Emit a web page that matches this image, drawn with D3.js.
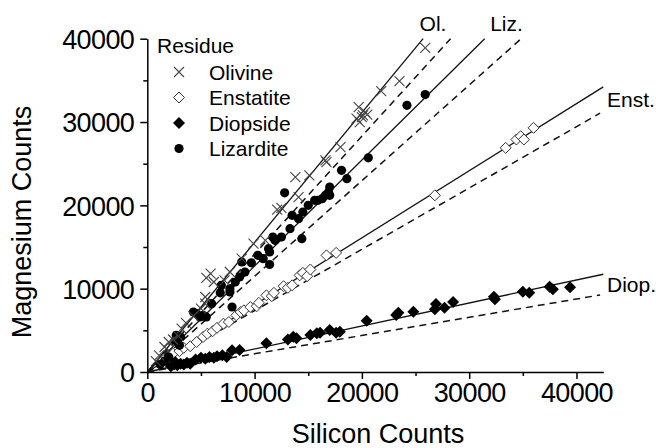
<!DOCTYPE html>
<html>
<head>
<meta charset="utf-8">
<script src="https://cdn.jsdelivr.net/npm/d3@7"></script>
<style>
  body { margin: 0; background: #fff; }
  text { font-family: "Liberation Sans", Arial, sans-serif; fill: #000; }
</style>
</head>
<body>
<div class="canvas"></div>
<script>
// data, [silicon, magnesium]
const olivine = [
  [800, 1300], [1100, 2000], [1600, 3000], [2000, 3600], [2400, 3900], [2900, 4300],
  [3200, 5200], [3600, 5900], [4300, 6700], [5000, 7600], [5400, 8200], [5400, 9000],
  [5500, 11300], [5900, 11800], [6200, 10800], [7200, 11000], [7700, 12000], [8800, 13600],
  [9900, 15400], [11000, 15800], [12100, 19500], [12500, 19700], [13800, 23400], [14100, 21000],
  [15100, 23600], [16600, 25400], [16700, 25200], [18000, 27000], [19500, 30400], [19700, 31800],
  [19800, 30000], [20000, 30600], [20100, 30800], [20300, 31200], [20500, 30900], [21800, 33700],
  [23500, 34900], [25900, 38900]
]
const enstatite = [
  [1500, 1400], [2000, 1700], [2400, 2200], [3000, 2500], [3400, 2900], [4000, 3100],
  [4600, 3600], [5200, 4200], [5600, 4600], [6100, 4900], [6500, 5300], [7100, 5800],
  [7600, 6000], [8300, 6800], [8700, 7200], [9000, 7400], [9600, 7800], [10200, 7900],
  [10400, 8300], [11100, 9200], [11600, 9100], [11800, 9500], [12700, 10300], [13100, 10100],
  [13500, 10400], [14200, 11600], [14500, 11900], [14900, 11500], [15200, 12300], [16700, 14000],
  [17600, 14300], [26800, 21200], [33400, 26900], [34400, 27900], [34800, 28300], [35100, 27900],
  [36000, 29300]
]
const diopside = [
  [2200, 700], [2500, 900], [2800, 800], [3100, 1000], [3400, 900], [3700, 1100],
  [4000, 1000], [2600, 1200], [4500, 1500], [5000, 1700], [5400, 1600], [5800, 1800],
  [6200, 1700], [6500, 1900], [7000, 2000], [7400, 1800], [7900, 2600], [8600, 2640],
  [11100, 3440], [13100, 3900], [13600, 4240], [13900, 4040], [15200, 4440], [15800, 4640],
  [16100, 4720], [17000, 5040], [17600, 4720], [17950, 4840], [20450, 6160], [23200, 6840],
  [23400, 7120], [24800, 7240], [26800, 7520], [26900, 8160], [27700, 7720], [28500, 8400],
  [32300, 9040], [32400, 8720], [35000, 9640], [35600, 9520], [37500, 10240], [37800, 9920],
  [39400, 10160]
]
const lizardite = [
  [1200, 900], [1600, 1300], [2000, 1800], [2600, 3800], [2700, 4400], [3000, 3200],
  [3100, 4200], [4300, 7200], [4600, 7000], [4900, 6600], [5200, 6800], [5500, 6600],
  [6000, 8200], [6800, 9500], [6900, 10400], [7700, 9600], [7700, 10000], [7900, 7800],
  [8200, 10800], [8600, 11400], [8800, 13200], [9100, 12000], [9700, 13100], [10300, 14000],
  [10800, 13600], [11300, 14800], [11400, 14400], [11400, 12900], [11700, 16200], [11900, 15800],
  [12500, 16200], [12800, 21500], [13300, 17200], [13500, 18800], [14100, 18400], [14400, 16000],
  [14500, 19200], [15000, 20000], [15600, 20600], [15900, 20600], [16300, 20800], [16600, 21200],
  [16900, 21600], [17000, 22200], [17000, 21200], [18100, 24200], [18600, 23200], [20600, 25700],
  [24200, 32000], [25900, 33300]
]

const residues = ['Olivine', 'Enstatite', 'Diopside', 'Lizardite']

// fitted lines (solid) and reference ratios (dashed), Mg = slope * Si
const lineNames = ['Ol.', 'Liz.', 'Enst.', 'Diop.']
const fitSlopes = [1.556, 1.272, 0.805, 0.276]
const refSlopes = [1.415, 1.148, 0.736, 0.219]

const xTicks = [0, 10000, 20000, 30000, 40000]
const yTicks = [0, 10000, 20000, 30000, 40000]
const minorTicks = [5000, 15000, 25000, 35000]

const dims = { width: 656, height: 448 }

const svg = d3.select('.canvas')
    .append('svg')
    .attr('width', dims.width)
    .attr('height', dims.height)

const x = d3.scaleLinear().domain([0, 42500]).range([147.3, 603.3])
const y = d3.scaleLinear().domain([0, 40000]).range([372, 38.7])

// axes
const xAxis = svg.append('g').attr('transform', `translate(0, ${y(0)})`)
    .call(d3.axisBottom(x).tickValues(xTicks).tickSize(7).tickSizeOuter(0).tickPadding(4).tickFormat(d3.format('d')))
svg.append('g').attr('transform', `translate(0, ${y(0)})`)
    .call(d3.axisBottom(x).tickValues(minorTicks).tickSize(4).tickSizeOuter(0).tickFormat(''))
    .select('.domain').remove()

const yAxis = svg.append('g').attr('transform', `translate(${x(0)}, 0)`)
    .call(d3.axisLeft(y).tickValues(yTicks).tickSize(7).tickSizeOuter(0).tickPadding(6).tickFormat(d3.format('d')))
svg.append('g').attr('transform', `translate(${x(0)}, 0)`)
    .call(d3.axisLeft(y).tickValues(minorTicks).tickSize(4).tickSizeOuter(0).tickFormat(''))
    .select('.domain').remove()

svg.selectAll('.domain').attr('stroke', '#000').attr('stroke-width', 1.5)
svg.selectAll('.tick line').attr('stroke', '#000').attr('stroke-width', 1.5)
svg.selectAll('.tick text')
    .attr('font-family', '"Liberation Sans", Arial, sans-serif')
    .attr('font-size', 27)
    .attr('letter-spacing', -0.6)
    .attr('fill', '#000')
yAxis.selectAll('.tick text').attr('dy', '0.36em')
xAxis.selectAll('.tick text').attr('dy', '0.72em')

svg.append('text')
    .attr('x', 378).attr('y', 443)
    .attr('text-anchor', 'middle')
    .attr('font-size', 27)
    .text('Silicon Counts')

svg.append('text')
    .attr('transform', 'translate(31, 222) rotate(-90)')
    .attr('text-anchor', 'middle')
    .attr('font-size', 27)
    .text('Magnesium Counts')

// lines
const endX = (s, xmax) => Math.min(xmax, 40000 / s)
const lines = svg.append('g')

lines.selectAll('.fit')
    .data(fitSlopes)
    .enter().append('line')
    .attr('class', 'fit')
    .attr('x1', x(0)).attr('y1', y(0))
    .attr('x2', s => x(endX(s, 42500)))
    .attr('y2', s => y(s * endX(s, 42500)))
    .attr('stroke', '#111').attr('stroke-width', 1.3)

lines.selectAll('.ref')
    .data(refSlopes)
    .enter().append('line')
    .attr('class', 'ref')
    .attr('x1', x(0)).attr('y1', y(0))
    .attr('x2', s => x(endX(s, 42200)))
    .attr('y2', s => y(s * endX(s, 42200)))
    .attr('stroke', '#111').attr('stroke-width', 1.5)
    .attr('stroke-dasharray', '7,5')

// line labels
lineNames.forEach((name, i) => {
    const ex = endX(refSlopes[i], 42200)
    if (ex < 42200) {
        svg.append('text')
            .attr('x', x(ex) - 31).attr('y', 31)
            .attr('font-size', 21)
            .text(name)
    } else {
        const mid = (y(fitSlopes[i] * 42500) + y(refSlopes[i] * 42200)) / 2
        svg.append('text')
            .attr('x', 607).attr('y', mid + 7)
            .attr('font-size', 21)
            .text(name)
    }
})

// markers
const diamond = h => `M0,${-h}L${h},0L0,${h}L${-h},0Z`
const cross = a => `M${-a},${-a}L${a},${a}M${-a},${a}L${a},${-a}`

const drawMarker = (g, kind) => {
    if (kind === 'Olivine') {
        g.append('path').attr('d', cross(5)).attr('stroke', '#444').attr('stroke-width', 1.1).attr('fill', 'none')
    } else if (kind === 'Enstatite') {
        g.append('path').attr('d', diamond(5.5)).attr('stroke', '#333').attr('stroke-width', 1).attr('fill', '#fff')
    } else if (kind === 'Diopside') {
        g.append('path').attr('d', diamond(6)).attr('fill', '#000')
    } else {
        g.append('circle').attr('r', 4.6).attr('fill', '#000')
    }
}

const series = { Olivine: olivine, Enstatite: enstatite, Diopside: diopside, Lizardite: lizardite }
const drawOrder = ['Enstatite', 'Diopside', 'Lizardite', 'Olivine']

drawOrder.forEach(name => {
    svg.append('g').selectAll('g')
        .data(series[name])
        .enter().append('g')
        .attr('transform', d => `translate(${x(d[0])}, ${y(d[1])})`)
        .each(function() { drawMarker(d3.select(this), name) })
})

// legend
const legend = svg.append('g')
legend.append('text').attr('x', 157).attr('y', 53).attr('font-size', 21).text('Residue')
residues.forEach((name, i) => {
    const row = legend.append('g').attr('transform', `translate(179, ${72 + i * 25.5})`)
    drawMarker(row, name)
    row.append('text').attr('x', 30).attr('y', 7.5).attr('font-size', 21).text(name)
})
</script>
</body>
</html>
